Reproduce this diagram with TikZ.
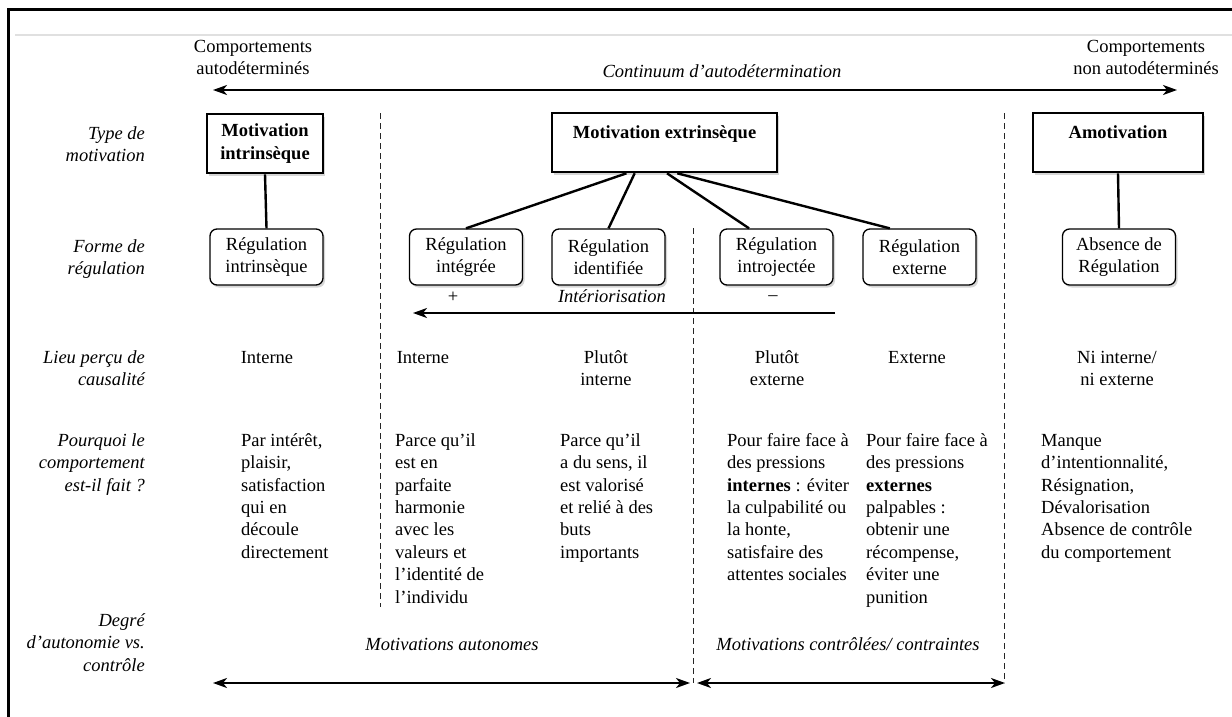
\documentclass[tikz,border=0pt]{standalone}
\usepackage{fontspec}
\setmainfont{Liberation Serif}
\usetikzlibrary{arrows.meta,shadows,calc}
\newcommand{\fs}{\fontsize{18.5}{22.4}\selectfont}
\newcommand{\fl}{\rule{0pt}{15pt}}
\begin{document}
\begin{tikzpicture}[x=1pt,y=-1pt,
  every node/.style={font=\fs, inner sep=0pt},
  txt/.style={anchor=north, align=center},
  itx/.style={anchor=north, align=center, font=\fs\itshape},
  lbl/.style={anchor=north east, align=right, font=\fs\itshape},
  para/.style={anchor=north west, align=left},
  shd/.style={drop shadow={shadow xshift=2pt, shadow yshift=-2.5pt, fill=black!35, opacity=.45}},
  bigbox/.style={draw, line width=2.6pt, fill=white, shd, font=\fs\bfseries},
  regbox/.style={draw, line width=1.3pt, rounded corners=7pt, fill=white, shd,
    minimum width=113pt, minimum height=56pt, align=center},
  link/.style={line width=2.4pt},
  dline/.style={line width=1pt, dash pattern=on 6pt off 4pt, black!85},
  biarr/.style={line width=2pt, {Stealth[length=14pt,width=10pt,inset=4pt]}-{Stealth[length=14pt,width=10pt,inset=4pt]}},
  larr/.style={line width=2pt, -{Stealth[length=14pt,width=10pt,inset=4pt]}},
]
\useasboundingbox (0,0) rectangle (1232,717);
\fill[white] (0,0) rectangle (1232,717);
% frame and scan line
\draw[line width=3pt] (8,717) -- (8,10) -- (1232,10);
\draw[black!12, line width=1.5pt] (15,35) -- (1232,35);

% top continuum
\node[txt] (cl) at (253,37) {\fl Comportements\\autodéterminés};
\node[txt] (cr) at (1146,37) {\fl Comportements\\non autodéterminés};
\node[itx] (cont) at (722,62) {\fl Continuum d’autodétermination};
\coordinate (al) at (213,90);
\coordinate (ar) at (1177,90);
\draw[biarr] (al) -- (ar);

% row labels
\node[lbl] (l1) at (145,124) {\fl Type de\\motivation};
\node[lbl] (l2) at (145,237) {\fl Forme de\\régulation};
\node[lbl] (l3) at (145,348) {\fl Lieu perçu de\\causalité};
\node[lbl] (l4) at (145,431) {\fl Pourquoi le\\comportement\\est-il fait ?};
\node[lbl] (l5) at (145,611) {\fl Degré\\d’autonomie vs.\\contrôle};

% dashed separators
\coordinate (d1t) at (380,113); \coordinate (d1b) at (380,607);
\coordinate (d2t) at (693,228); \coordinate (d2b) at (693,683);
\coordinate (d3t) at (1004,113); \coordinate (d3b) at (1004,683);
\draw[dline] (d1t) -- (d1b);
\draw[dline] (d2t) -- (d2b);
\draw[dline] (d3t) -- (d3b);

% motivation boxes
\node[bigbox, minimum width=116pt, minimum height=59pt, align=center] (mi) at (265,143.5) {Motivation\\intrinsèque};
\node[bigbox, minimum width=225pt, text height=25pt, text depth=34pt] (ext) at (664.5,142.5) {Motivation extrinsèque};
\node[bigbox, minimum width=170pt, text height=25pt, text depth=34pt] (amo) at (1118,142.5) {Amotivation};

% regulation boxes
\node[regbox] (ri) at (266.5,257) {Régulation\\intrinsèque};
\node[regbox] (integ) at (466,257) {Régulation\\intégrée};
\node[regbox] (ident) at (608.5,257) {Régulation\\identifiée};
\node[regbox] (intro) at (776.5,257) {Régulation\\introjectée};
\node[regbox] (extn) at (919.5,257) {Régulation\\externe};
\node[regbox] (abs) at (1119,257) {Absence de\\Régulation};

% connectors
\draw[link] (mi.south) -- (ri.north);
\draw[link] (amo.south) -- (abs.north);
\draw[link] ($(ext.south west)!0.333!(ext.south east)$) -- (integ.north);
\draw[link] ($(ext.south west)!0.369!(ext.south east)$) -- (ident.north);
\draw[link] ($(ext.south west)!0.511!(ext.south east)$) -- ($(intro.north west)!0.26!(intro.north east)$);
\draw[link] ($(ext.south west)!0.556!(ext.south east)$) -- ($(extn.north west)!0.24!(extn.north east)$);

% interiorisation
\node (plus) at (453,297) {+};
\node[itx] (inter) at (612,287) {\fl Intériorisation};
\node (minus) at (773,298) {–};
\coordinate (ia) at (835,313);
\coordinate (ib) at (413,313);
\draw[larr] (ia) -- (ib);

% locus of causality
\node[txt] (c1) at (267,348) {\fl Interne};
\node[txt] (c2) at (423,348) {\fl Interne};
\node[txt] (c3) at (606,348) {\fl Plutôt\\interne};
\node[txt] (c4) at (777,348) {\fl Plutôt\\externe};
\node[txt] (c5) at (917,348) {\fl Externe};
\node[txt] (c6) at (1117,348) {\fl Ni interne/\\ni externe};

% reasons
\node[para] (p1) at (241,431) {\fl Par intérêt,\\plaisir,\\satisfaction\\qui en\\découle\\directement};
\node[para] (p2) at (395,431) {\fl Parce qu’il\\est en\\parfaite\\harmonie\\avec les\\valeurs et\\l’identité de\\l’individu};
\node[para] (p3) at (560,431) {\fl Parce qu’il\\a du sens, il\\est valorisé\\et relié à des\\buts\\importants};
\node[para] (p4) at (727,431) {\fl Pour faire face à\\des pressions\\\textbf{internes} : éviter\\la culpabilité ou\\la honte,\\satisfaire des\\attentes sociales};
\node[para] (p5) at (866,431) {\fl Pour faire face à\\des pressions\\\textbf{externes}\\palpables :\\obtenir une\\récompense,\\éviter une\\punition};
\node[para] (p6) at (1041,431) {\fl Manque\\d’intentionnalité,\\Résignation,\\Dévalorisation\\Absence de contrôle\\du comportement};

% autonomy vs control
\node[itx] (ma) at (452,635) {\fl Motivations autonomes};
\node[itx] (mc) at (848,635) {\fl Motivations contrôlées/ contraintes};
\coordinate (ba1) at (213,683); \coordinate (ba2) at (690,683);
\coordinate (bb1) at (697,683); \coordinate (bb2) at (1005,683);
\draw[biarr] (ba1) -- (ba2);
\draw[biarr] (bb1) -- (bb2);
\end{tikzpicture}
\end{document}
